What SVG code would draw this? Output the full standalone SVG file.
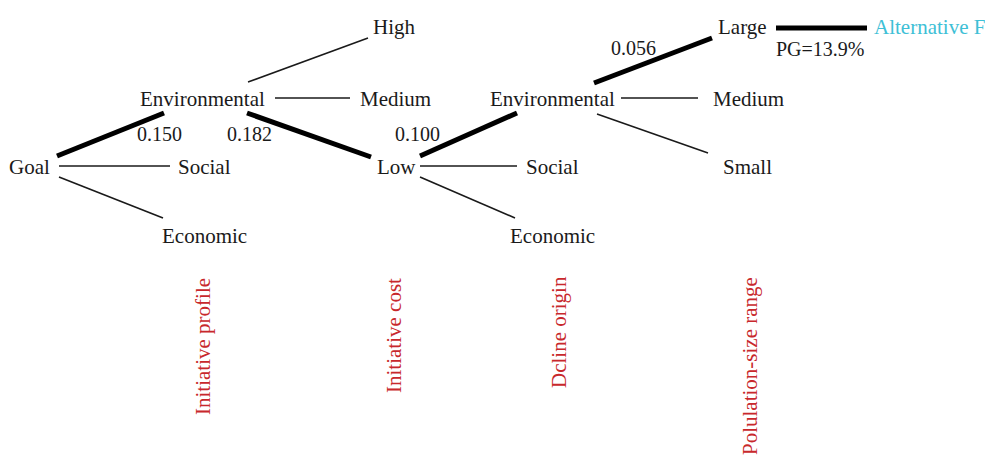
<svg xmlns="http://www.w3.org/2000/svg" width="985" height="455" viewBox="0 0 985 455">
<style>
text{font-family:"Liberation Serif","Times New Roman",serif;font-size:21px;fill:#1a1a1a}
.num{font-size:20px}
.lab{fill:#c8282c}
.alt{fill:#3ec0d6}
.thin{stroke:#1a1a1a;stroke-width:1.6;fill:none}
.thick{stroke:#000;stroke-width:5;fill:none}
</style>
<rect width="985" height="455" fill="#fff"/>
<g id="connectors">
<line class="thick" x1="57" y1="156" x2="164" y2="113"/>
<line class="thin" x1="59" y1="166" x2="170" y2="166"/>
<line class="thin" x1="59" y1="177" x2="163" y2="218"/>
<line class="thin" x1="248" y1="82" x2="368" y2="38"/>
<line class="thin" x1="275" y1="98" x2="350" y2="98"/>
<line class="thick" x1="247" y1="113" x2="371" y2="157"/>
<line class="thick" x1="420" y1="156" x2="517" y2="113"/>
<line class="thin" x1="420" y1="166" x2="517" y2="166"/>
<line class="thin" x1="420" y1="177" x2="515" y2="218"/>
<line class="thick" x1="594" y1="83" x2="712" y2="38"/>
<line class="thin" x1="621" y1="98" x2="698" y2="98"/>
<line class="thin" x1="597" y1="114" x2="708" y2="153"/>
<line class="thick" x1="776" y1="28" x2="867" y2="28"/>
</g>
<g id="goal"><text x="9" y="174">Goal</text></g>
<g id="env1"><text x="140" y="106">Environmental</text></g>
<g id="social1"><text x="178" y="174">Social</text></g>
<g id="economic1"><text x="162" y="243">Economic</text></g>
<g id="high"><text x="373" y="34">High</text></g>
<g id="medium1"><text x="360" y="106">Medium</text></g>
<g id="low"><text x="377" y="174">Low</text></g>
<g id="env2"><text x="490" y="106">Environmental</text></g>
<g id="social2"><text x="526" y="174">Social</text></g>
<g id="economic2"><text x="510" y="243">Economic</text></g>
<g id="large"><text x="718" y="34">Large</text></g>
<g id="medium2"><text x="713" y="106">Medium</text></g>
<g id="small"><text x="723" y="174">Small</text></g>
<g id="alternative"><text class="alt" x="874" y="34">Alternative F</text></g>
<g id="weights">
<text class="num" x="137" y="141">0.150</text>
<text class="num" x="227" y="141">0.182</text>
<text class="num" x="395" y="141">0.100</text>
<text class="num" x="611" y="55">0.056</text>
<text class="num" x="776" y="56">PG=13.9%</text>
</g>
<g id="levels">
<text class="lab" transform="translate(210,415) rotate(-90)">Initiative profile</text>
<text class="lab" transform="translate(401,393) rotate(-90)">Initiative cost</text>
<text class="lab" transform="translate(566,388) rotate(-90)">Dcline origin</text>
<text class="lab" transform="translate(757,455) rotate(-90)">Polulation-size range</text>
</g>
</svg>
